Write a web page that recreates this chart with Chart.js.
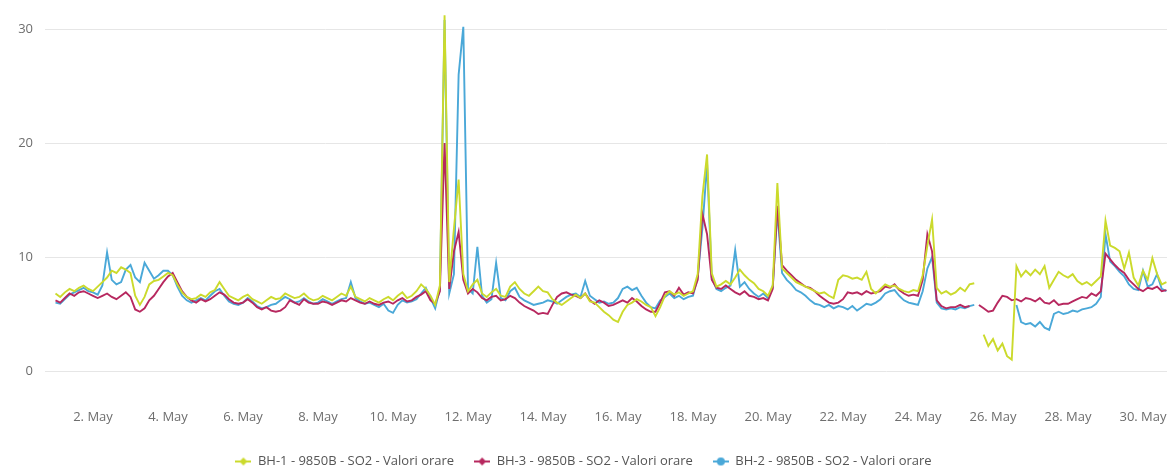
<!DOCTYPE html>
<html><head><meta charset="utf-8">
<script src="https://cdn.jsdelivr.net/npm/chart.js@4.4.1/dist/chart.umd.min.js"></script>
<style>html,body{margin:0;padding:0;background:#fff;overflow:hidden}</style>
</head><body>
<canvas id="c" width="1167" height="472"></canvas>
<script>
// Time base: first value = 1 May 00:00, one value every 3 hours (x in days of May)
const firstDay = 1;
const stepHours = 3;

const seriesNames = [
  'BH-1 - 9850B - SO2 - Valori orare',
  'BH-3 - 9850B - SO2 - Valori orare',
  'BH-2 - 9850B - SO2 - Valori orare'
];

const bh1 = [
  6.8,6.5,6.9,7.2,7.0,7.3,7.5,7.2,
  7.0,7.4,7.8,8.2,8.8,8.6,9.1,8.9,
  8.6,6.6,5.8,6.5,7.6,7.9,8.0,8.3,
  8.6,8.4,7.6,6.9,6.5,6.3,6.4,6.7,
  6.5,6.9,7.1,7.8,7.2,6.6,6.4,6.2,
  6.5,6.7,6.3,6.1,5.9,6.2,6.5,6.3,
  6.4,6.8,6.6,6.4,6.5,6.8,6.4,6.2,
  6.3,6.6,6.4,6.2,6.5,6.8,6.6,7.4,
  6.5,6.3,6.1,6.4,6.2,6.0,6.3,6.5,
  6.2,6.6,6.9,6.4,6.6,7.0,7.6,7.2,
  6.6,5.8,7.5,31.2,7.8,12.5,16.8,8.5,
  7.0,7.6,8.0,6.8,6.5,6.9,7.2,6.6,
  6.5,7.4,7.8,7.2,6.8,6.6,7.0,7.4,
  7.0,6.9,6.3,6.0,5.8,6.1,6.4,6.7,
  6.4,6.8,6.1,6.0,5.6,5.2,4.9,4.5,
  4.3,5.2,5.8,6.0,6.3,6.1,5.8,5.6,
  4.8,5.6,6.6,7.0,6.7,6.9,6.6,6.8,
  7.0,8.5,15.3,19.0,8.6,7.4,7.6,7.9,
  7.6,8.2,8.9,8.4,8.0,7.7,7.2,7.0,
  6.6,7.5,16.5,9.0,8.6,8.2,7.8,7.6,
  7.4,7.2,7.0,6.8,6.9,6.6,6.4,8.0,
  8.4,8.3,8.1,8.2,8.0,8.7,7.2,6.8,
  7.2,7.6,7.4,7.5,7.2,7.0,6.9,7.1,
  7.0,8.4,11.0,13.3,7.3,6.8,7.0,6.7,
  6.9,7.3,7.0,7.6,7.7,null,3.2,2.2,
  2.8,1.8,2.4,1.3,1.0,9.2,8.3,8.8,
  8.4,8.9,8.5,9.2,7.3,8.0,8.7,8.4,
  8.2,8.5,7.9,7.6,7.8,7.5,7.9,8.3,
  13.2,11.0,10.8,10.5,9.0,10.4,8.2,7.5,
  8.8,8.0,9.9,8.5,7.6,7.8
];

const bh3 = [
  6.2,6.0,6.4,6.8,6.6,6.9,7.0,6.8,
  6.6,6.4,6.6,6.8,6.5,6.3,6.6,6.9,
  6.5,5.4,5.2,5.5,6.2,6.6,7.2,7.8,
  8.3,8.6,7.8,7.0,6.5,6.2,6.0,6.3,
  6.1,6.3,6.6,6.9,6.7,6.3,6.0,5.9,
  6.0,6.3,6.0,5.6,5.4,5.6,5.3,5.2,
  5.3,5.6,6.2,6.0,5.8,6.3,6.0,5.9,
  5.9,6.1,6.0,5.8,6.0,6.2,6.1,6.4,
  6.2,6.0,5.9,6.1,5.9,5.8,6.0,6.1,
  5.9,6.2,6.4,6.1,6.2,6.5,6.7,7.0,
  6.2,5.9,7.0,20.0,7.2,10.5,12.2,8.0,
  6.8,7.2,6.9,6.4,6.2,6.5,6.6,6.2,
  6.3,6.6,6.4,6.0,5.7,5.5,5.3,5.0,
  5.1,5.0,5.8,6.5,6.8,6.9,6.7,6.6,
  6.4,6.8,6.2,5.9,6.2,6.0,5.7,5.8,
  6.0,6.2,6.0,6.4,6.1,5.7,5.4,5.2,
  5.2,6.0,6.9,7.0,6.6,7.3,6.7,6.9,
  6.8,8.0,13.8,12.0,8.0,7.3,7.2,7.5,
  7.2,6.9,6.7,7.0,6.6,6.5,6.3,6.4,
  6.2,7.2,14.5,9.3,8.8,8.4,8.0,7.7,
  7.4,7.3,7.0,6.6,6.3,6.0,5.9,6.0,
  6.3,6.9,6.8,6.9,6.7,7.0,6.8,6.9,
  7.0,7.4,7.3,7.6,7.1,6.8,6.6,6.7,
  6.6,8.0,12.0,10.5,6.2,5.7,5.5,5.6,
  5.6,5.8,5.6,5.7,null,5.8,5.5,5.2,
  5.3,6.0,6.6,6.5,6.2,6.3,6.1,6.4,
  6.3,6.1,6.4,6.0,5.9,6.2,5.8,5.9,
  5.9,6.1,6.3,6.5,6.4,6.8,6.6,7.0,
  10.3,9.8,9.3,8.9,8.6,8.0,7.6,7.2,
  7.0,7.3,7.2,7.4,7.0,7.1
];

const bh2 = [
  6.0,5.9,6.3,6.7,6.9,7.1,7.3,7.0,
  6.9,6.7,7.5,10.4,8.0,7.6,7.8,8.9,
  9.3,8.2,7.8,9.5,8.8,8.1,8.4,8.8,
  8.8,8.4,7.4,6.6,6.2,6.0,6.2,6.4,
  6.2,6.6,7.0,7.2,6.6,6.1,5.9,5.8,
  6.0,6.4,6.1,5.7,5.5,5.6,5.8,5.9,
  6.2,6.5,6.3,6.0,6.1,6.4,6.1,5.9,
  6.0,6.3,6.1,5.9,6.1,6.3,6.4,7.8,
  6.4,6.1,5.9,6.0,5.8,5.6,5.9,5.3,
  5.1,5.8,6.2,6.0,6.1,6.3,6.8,7.3,
  6.4,5.5,7.2,30.8,6.8,8.5,26.0,30.2,
  7.2,6.8,10.9,6.6,6.0,6.3,9.5,6.4,
  6.2,7.0,7.3,6.5,6.2,6.0,5.8,5.9,
  6.0,6.2,6.1,5.9,6.2,6.5,6.7,6.8,
  6.5,7.9,6.6,6.3,6.0,6.1,5.9,6.0,
  6.4,7.2,7.4,7.1,7.3,6.6,6.0,5.6,
  5.5,6.2,6.5,6.8,6.4,6.6,6.3,6.5,
  6.6,8.2,12.5,18.2,8.2,7.2,7.0,7.3,
  7.5,10.6,7.4,7.8,7.2,6.8,6.5,6.8,
  6.4,7.3,14.0,8.6,8.0,7.6,7.1,6.9,
  6.6,6.2,5.9,5.8,5.6,5.8,5.5,5.7,
  5.6,5.4,5.7,5.3,5.6,5.9,5.8,6.0,
  6.3,6.8,7.0,7.1,6.6,6.2,6.0,5.9,
  5.8,7.0,9.0,10.0,6.0,5.5,5.4,5.5,
  5.4,5.6,5.5,5.7,5.8,null,null,null,
  null,null,null,null,null,5.8,4.3,4.1,
  4.2,3.9,4.3,3.8,3.6,5.0,5.2,5.0,
  5.1,5.3,5.2,5.4,5.5,5.6,5.9,6.5,
  12.0,9.6,9.2,8.7,8.3,7.6,7.2,7.1,
  8.8,7.4,7.6,8.5,7.2,7.0
];

const xTickDays = [2,4,6,8,10,12,14,16,18,20,22,24,26,28,30];
const xTickLabels = ['2. May','4. May','6. May','8. May','10. May','12. May','14. May','16. May','18. May','20. May','22. May','24. May','26. May','28. May','30. May'];
const yTickValues = [0,10,20,30];

const colors = ['#cbda2c', '#b7285f', '#4aa8d8'];
const markers = ['diamond', 'diamond', 'circle'];

function legendSymbol(color, shape) {
  const cv = document.createElement('canvas');
  cv.width = 16; cv.height = 10;
  const g = cv.getContext('2d');
  g.strokeStyle = color; g.lineWidth = 2;
  g.beginPath(); g.moveTo(0, 5); g.lineTo(16, 5); g.stroke();
  g.fillStyle = color;
  g.beginPath();
  if (shape === 'circle') { g.arc(8, 5, 4, 0, Math.PI * 2); }
  else { g.moveTo(8, 1); g.lineTo(12, 5); g.lineTo(8, 9); g.lineTo(4, 5); g.closePath(); }
  g.fill();
  return cv;
}

function toPoints(values) {
  return values.map((v, i) => ({ x: firstDay + i * stepHours / 24, y: v }));
}

const seriesValues = [bh1, bh3, bh2];
const datasets = seriesValues.map((vals, k) => ({
  label: seriesNames[k],
  data: toPoints(vals),
  borderColor: colors[k],
  backgroundColor: colors[k],
  borderWidth: 1.9,
  pointRadius: 0,
  pointHoverRadius: 0,
  pointStyle: legendSymbol(colors[k], markers[k]),
  tension: 0,
  spanGaps: false,
  fill: false
}));

const fontFamily = '"Open Sans", "DejaVu Sans", sans-serif';
const tickFont = { family: fontFamily, size: 13 };

new Chart(document.getElementById('c'), {
  type: 'line',
  data: { datasets },
  options: {
    responsive: false,
    animation: false,
    devicePixelRatio: 1,
    layout: { padding: { left: 0, right: 0, top: 0, bottom: -6 } },
    scales: {
      x: {
        type: 'linear',
        min: 0.72,
        max: 30.64,
        grid: { display: false, drawTicks: false },
        border: { display: false },
        afterBuildTicks: (s) => { s.ticks = xTickDays.map(v => ({ value: v })); },
        afterFit: (s) => { s.height = 64; s.paddingLeft = 0; s.paddingRight = 0; },
        ticks: {
          autoSkip: false,
          maxRotation: 0,
          padding: 38,
          color: '#6e6e6e',
          font: tickFont,
          callback: (v) => { const i = xTickDays.indexOf(v); return i >= 0 ? xTickLabels[i] : ''; }
        }
      },
      y: {
        min: 0,
        max: 32.55,
        grid: { color: '#e6e6e6', drawTicks: false },
        border: { display: false },
        afterBuildTicks: (s) => { s.ticks = yTickValues.map(v => ({ value: v })); },
        afterFit: (s) => { s.width = 45; s.paddingTop = 0; s.paddingBottom = 0; },
        ticks: { padding: 12, color: '#6e6e6e', font: tickFont }
      }
    },
    plugins: {
      tooltip: { enabled: false },
      legend: {
        position: 'bottom',
        labels: {
          usePointStyle: true,
          pointStyleWidth: 16,
          padding: 20,
          color: '#555',
          font: { family: fontFamily, size: 13 }
        }
      }
    }
  }
});
</script>
</body></html>
